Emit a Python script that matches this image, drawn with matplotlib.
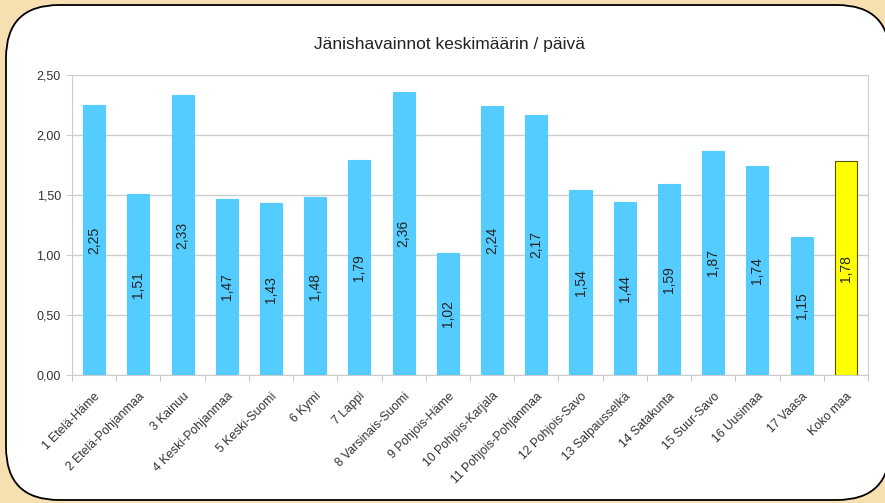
import matplotlib
matplotlib.use('Agg')
import matplotlib.pyplot as plt
from matplotlib.patches import FancyBboxPatch
import numpy as np

# data
regions = ['1 Etelä-Häme', '2 Etelä-Pohjanmaa', '3 Kainuu', '4 Keski-Pohjanmaa',
           '5 Keski-Suomi', '6 Kymi', '7 Lappi', '8 Varsinais-Suomi', '9 Pohjois-Häme',
           '10 Pohjois-Karjala', '11 Pohjois-Pohjanmaa', '12 Pohjois-Savo',
           '13 Salpausselkä', '14 Satakunta', '15 Suur-Savo', '16 Uusimaa',
           '17 Vaasa', 'Koko maa']
values = [2.25, 1.51, 2.33, 1.47, 1.43, 1.48, 1.79, 2.36, 1.02, 2.24, 2.17,
          1.54, 1.44, 1.59, 1.87, 1.74, 1.15, 1.78]
yticks = [0.0, 0.5, 1.0, 1.5, 2.0, 2.5]

plt.rcParams['font.family'] = ['Liberation Sans', 'DejaVu Sans']

W, H = 885, 503
fig = plt.figure(figsize=(W / 100, H / 100), dpi=100)
fig.patch.set_facecolor('#F6DFB0')

# white rounded panel behind the chart
panel = FancyBboxPatch((6 / W, 3 / H), (890 - 6) / W, (498 - 3) / H,
                       boxstyle='round,pad=0,rounding_size=0.06',
                       transform=fig.transFigure, facecolor='white',
                       edgecolor='black', linewidth=1.3,
                       mutation_aspect=W / H, zorder=-1)
fig.patches.append(panel)

ax = fig.add_axes([72 / W, 1 - 375 / H, (868 - 72) / W, (375 - 75) / H])
ax.set_facecolor('none')

x = np.arange(len(regions))
colors = ['#55CCFF'] * (len(regions) - 1) + ['#FFFF00']
edges = ['#55CCFF'] * (len(regions) - 1) + ['#555500']
ax.bar(x, values, width=0.5, color=colors, edgecolor=edges, linewidth=0.8, zorder=3)

for xi, v in zip(x, values):
    ax.text(xi, v / 2, f'{v:.2f}'.replace('.', ','), rotation=90,
            ha='center', va='center', fontsize=10, color='#222222', zorder=4)

ax.set_xlim(-0.5, len(regions) - 0.5)
ax.set_ylim(0, 2.5)
ax.set_yticks(yticks)
ax.set_yticklabels([f'{t:.2f}'.replace('.', ',') for t in yticks], fontsize=9, color='#333333')
ax.yaxis.grid(True, color='#cccccc', linewidth=1, zorder=0)
ax.tick_params(axis='y', length=4, color='#cccccc', pad=4)

ax.set_xticks(x)
ax.set_xticklabels(regions, rotation=45, ha='right', rotation_mode='anchor', fontsize=8.8, color='#333333')
ax.set_xticks(np.arange(-0.5, len(regions), 1), minor=True)
ax.tick_params(axis='x', which='major', length=0, pad=11)
ax.tick_params(axis='x', which='minor', length=4, color='#bbbbbb')

for s in ['left', 'right', 'bottom']:
    ax.spines[s].set_color('#cccccc')
ax.spines['top'].set_visible(False)

fig.text(449 / W, 1 - 45 / H, 'Jänishavainnot keskimäärin / päivä',
         ha='center', va='center', fontsize=12.5, color='#222222')

fig.savefig('out.png', dpi=100, facecolor=fig.get_facecolor())
